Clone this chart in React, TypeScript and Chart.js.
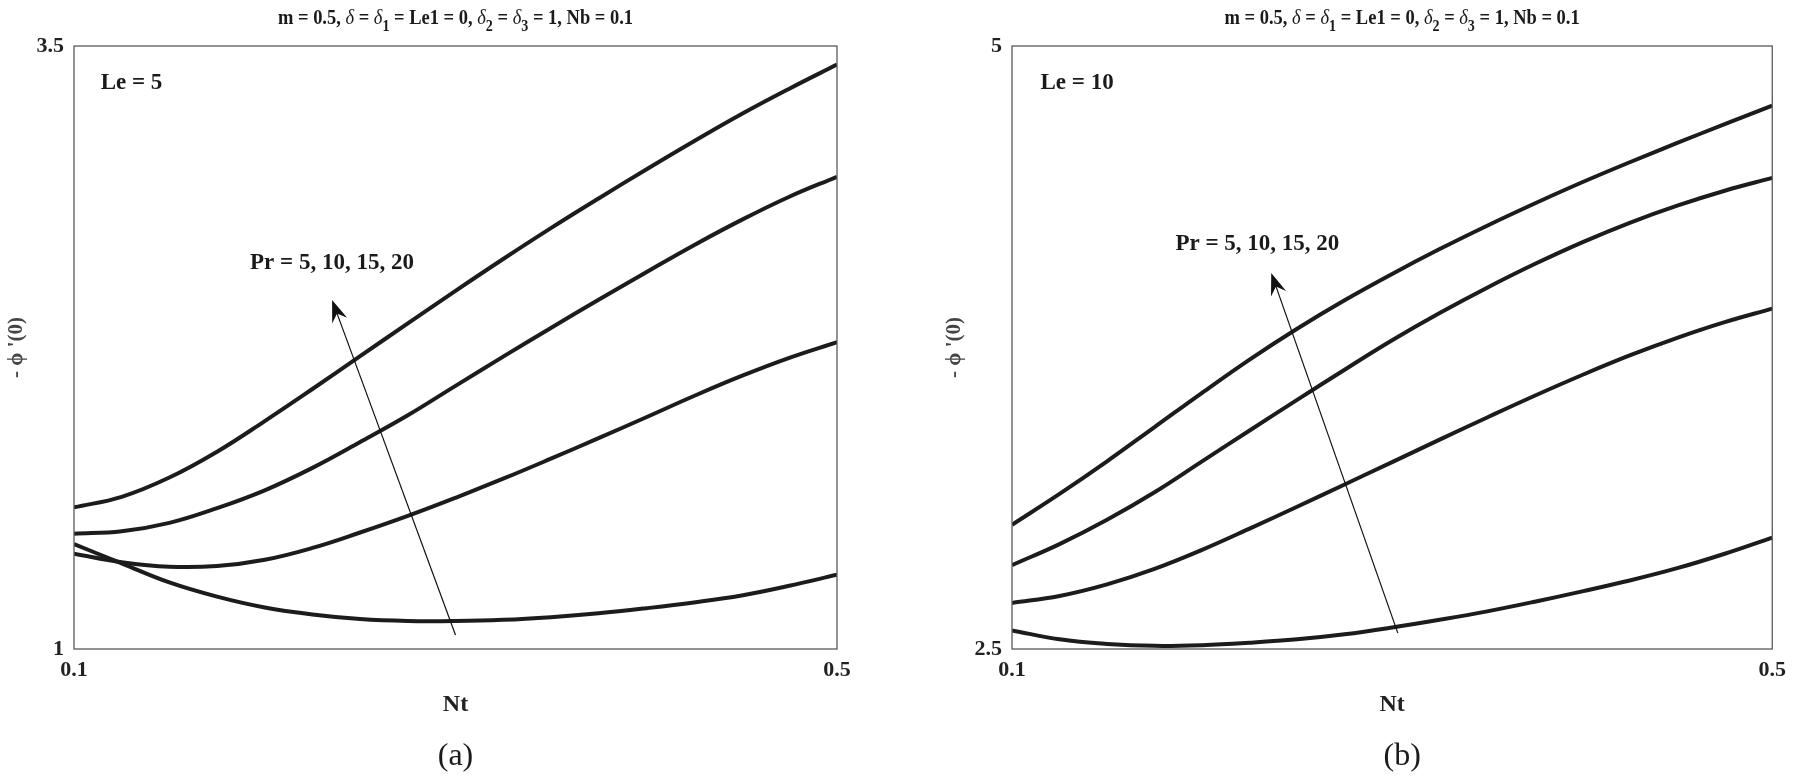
import React, { useEffect, useRef } from 'react';
import { Chart, registerables } from 'chart.js';

Chart.register(...registerables);
Chart.defaults.font.family = '"Liberation Serif", "Times New Roman", serif';
Chart.defaults.color = '#222';

// Nt values along the x axis
const NT = [0.1, 0.125, 0.15, 0.175, 0.2, 0.225, 0.25, 0.275, 0.3, 0.325, 0.35, 0.375, 0.4, 0.425, 0.45, 0.475, 0.5];
const X_TICKS = [0.1, 0.5];
const PR_LABELS = ['Pr = 5', 'Pr = 10', 'Pr = 15', 'Pr = 20'];

// (a) Le = 5
const A_Y_TICKS = [1, 3.5];
const A_PR5 = [1.435, 1.355, 1.276, 1.217, 1.172, 1.143, 1.124, 1.116, 1.116, 1.121, 1.132, 1.148, 1.169, 1.193, 1.222, 1.262, 1.308];
const A_PR10 = [1.395, 1.36, 1.341, 1.344, 1.37, 1.419, 1.483, 1.552, 1.627, 1.706, 1.789, 1.874, 1.961, 2.049, 2.132, 2.207, 2.272];
const A_PR15 = [1.478, 1.488, 1.523, 1.584, 1.658, 1.751, 1.858, 1.969, 2.091, 2.212, 2.331, 2.448, 2.562, 2.674, 2.779, 2.875, 2.958];
const A_PR20 = [1.587, 1.631, 1.711, 1.818, 1.945, 2.078, 2.214, 2.35, 2.485, 2.617, 2.745, 2.868, 2.988, 3.105, 3.218, 3.323, 3.423];

// (b) Le = 10
const B_Y_TICKS = [2.5, 5];
const B_PR5 = [2.577, 2.54, 2.521, 2.513, 2.516, 2.526, 2.54, 2.561, 2.589, 2.621, 2.656, 2.696, 2.739, 2.784, 2.835, 2.895, 2.962];
const B_PR10 = [2.691, 2.72, 2.768, 2.832, 2.911, 2.999, 3.09, 3.182, 3.275, 3.368, 3.46, 3.55, 3.636, 3.717, 3.79, 3.855, 3.911];
const B_PR15 = [2.848, 2.935, 3.036, 3.15, 3.278, 3.406, 3.533, 3.658, 3.78, 3.893, 3.998, 4.096, 4.186, 4.267, 4.338, 4.4, 4.453];
const B_PR20 = [3.015, 3.143, 3.278, 3.42, 3.562, 3.7, 3.828, 3.946, 4.055, 4.158, 4.255, 4.347, 4.435, 4.518, 4.598, 4.676, 4.753];

const SERIF = '"Liberation Serif", "Times New Roman", serif';

// title pieces: [text, style]
const TITLE = [
  ['m = 0.5, ', 'b'], ['δ', 'i'], [' = ', 'b'], ['δ', 'i'], ['1', 's'], [' = Le1 = 0, ', 'b'],
  ['δ', 'i'], ['2', 's'], [' = ', 'b'], ['δ', 'i'], ['3', 's'], [' = 1, Nb = 0.1', 'b'],
];

const fontFor = (s: string) =>
  s === 'i' ? `italic 21px ${SERIF}` : s === 's' ? `bold 16px ${SERIF}` : `bold 21px ${SERIF}`;

const decor = {
  id: 'decor',
  afterDatasetsDraw(chart: any, _a: any, o: any) {
    const { ctx, chartArea: a, scales } = chart;
    const px = (v: number) => scales.x.getPixelForValue(v);
    const py = (v: number) => scales.y.getPixelForValue(v);
    ctx.save();
    ctx.strokeStyle = '#5a5a5a';
    ctx.lineWidth = 1.3;
    ctx.strokeRect(a.left, a.top, a.right - a.left, a.bottom - a.top);

    // arrow
    const [tx, ty, hx, hy] = o.arrow;
    const x1 = px(tx), y1 = py(ty), x2 = px(hx), y2 = py(hy);
    const len = Math.hypot(x2 - x1, y2 - y1);
    const dx = (x2 - x1) / len, dy = (y2 - y1) / len;
    const nx = -dy, ny = dx;
    const L = 22, W = 8;
    ctx.strokeStyle = '#111';
    ctx.lineWidth = 1.2;
    ctx.beginPath();
    ctx.moveTo(x1, y1);
    ctx.lineTo(x2 - dx * L * 0.6, y2 - dy * L * 0.6);
    ctx.stroke();
    ctx.fillStyle = '#111';
    ctx.beginPath();
    ctx.moveTo(x2, y2);
    ctx.lineTo(x2 - dx * L + nx * W, y2 - dy * L + ny * W);
    ctx.lineTo(x2 - dx * L * 0.65, y2 - dy * L * 0.65);
    ctx.lineTo(x2 - dx * L - nx * W, y2 - dy * L - ny * W);
    ctx.closePath();
    ctx.fill();

    ctx.fillStyle = '#1a1a1a';
    ctx.textBaseline = 'middle';
    ctx.textAlign = 'left';
    ctx.font = `bold 23px ${SERIF}`;
    ctx.fillText(o.le, px(o.lePos[0]), py(o.lePos[1]));
    ctx.fillText(o.pr, px(o.prPos[0]), py(o.prPos[1]));
    ctx.restore();
  },
  afterDraw(chart: any, _a: any, o: any) {
    const { ctx, chartArea: a } = chart;
    const squeeze = 0.88;
    ctx.save();
    ctx.fillStyle = '#1a1a1a';
    ctx.textBaseline = 'alphabetic';
    ctx.textAlign = 'left';
    let total = 0;
    for (const [t, s] of TITLE) { ctx.font = fontFor(s); total += ctx.measureText(t).width; }
    const cx = (a.left + a.right) / 2 + o.shift;
    ctx.save();
    ctx.translate(cx, 0);
    ctx.scale(squeeze, 1);
    let x = -total / 2;
    for (const [t, s] of TITLE) {
      ctx.font = fontFor(s);
      ctx.fillText(t, x, s === 's' ? 31 : 24);
      x += ctx.measureText(t).width;
    }
    ctx.restore();
    ctx.font = `32px ${SERIF}`;
    ctx.textAlign = 'center';
    ctx.textBaseline = 'middle';
    ctx.fillText(o.tag, cx, 757);
    ctx.restore();
  },
};

type PanelProps = {
  series: number[][];
  yTicks: number[];
  le: string;
  tag: string;
  arrow: number[];
  lePos: number[];
  prPos: number[];
  left: number;
  width: number;
  padRight: number;
  shift: number;
};

function Panel(p: PanelProps) {
  const ref = useRef<HTMLCanvasElement>(null);
  useEffect(() => {
    if (!ref.current) return;
    const chart = new Chart(ref.current, {
      type: 'line',
      data: {
        datasets: p.series.map((s, i) => ({
          label: PR_LABELS[i],
          data: s.map((v, j) => ({ x: NT[j], y: v })),
          borderColor: '#1c1c1c',
          borderWidth: 4,
          pointRadius: 0,
          fill: false,
          tension: 0.4,
        })),
      },
      options: {
        animation: false,
        responsive: false,
        layout: { padding: { left: 0, top: 46, right: p.padRight, bottom: 0 } },
        plugins: {
          legend: { display: false },
          tooltip: { enabled: false },
          decor: { arrow: p.arrow, le: p.le, lePos: p.lePos, pr: 'Pr = 5, 10, 15, 20', prPos: p.prPos, tag: p.tag, shift: p.shift },
        } as any,
        scales: {
          x: {
            type: 'linear',
            min: X_TICKS[0],
            max: X_TICKS[1],
            afterBuildTicks: (s: any) => { s.ticks = X_TICKS.map((value) => ({ value })); },
            afterFit: (s: any) => { s.height = 127; },
            grid: { display: false, drawTicks: false },
            border: { display: false },
            ticks: { padding: 8, maxRotation: 0, font: { size: 22, weight: 'bold' }, callback: (v: any) => String(v) },
            title: { display: true, text: 'Nt', font: { size: 24, weight: 'bold' }, padding: { top: 0, bottom: 57 } },
          },
          y: {
            type: 'linear',
            min: p.yTicks[0],
            max: p.yTicks[1],
            afterBuildTicks: (s: any) => { s.ticks = p.yTicks.map((value) => ({ value })); },
            afterFit: (s: any) => { s.width = 74; },
            grid: { display: false, drawTicks: false },
            border: { display: false },
            ticks: { padding: 10, font: { size: 22, weight: 'bold' }, callback: (v: any) => String(v) },
            title: { display: true, text: "- ϕ '(0)", color: '#444', font: { size: 21, weight: 'bold' }, padding: { top: 4, bottom: 0 } },
          },
        },
      },
      plugins: [decor],
    } as any);
    return () => chart.destroy();
  }, []);
  return (
    <canvas
      ref={ref}
      width={p.width}
      height={776}
      style={{ position: 'absolute', left: p.left, top: 0, width: p.width, height: 776 }}
    />
  );
}

export default function App() {
  return (
    <div style={{ position: 'absolute', left: 0, top: 0, width: 1794, height: 776, background: '#fff' }}>
      <Panel
        series={[A_PR5, A_PR10, A_PR15, A_PR20]}
        yTicks={A_Y_TICKS}
        le="Le = 5"
        tag="(a)"
        arrow={[0.3, 1.058, 0.2353, 2.447]}
        lePos={[0.114, 3.347]}
        prPos={[0.1923, 2.6]}
        left={0}
        width={897}
        padRight={60}
        shift={0}
      />
      <Panel
        series={[B_PR5, B_PR10, B_PR15, B_PR20]}
        yTicks={B_Y_TICKS}
        le="Le = 10"
        tag="(b)"
        arrow={[0.303, 2.566, 0.2364, 4.059]}
        lePos={[0.115, 4.847]}
        prPos={[0.186, 4.179]}
        left={938}
        width={856}
        padRight={18}
        shift={10}
      />
    </div>
  );
}
